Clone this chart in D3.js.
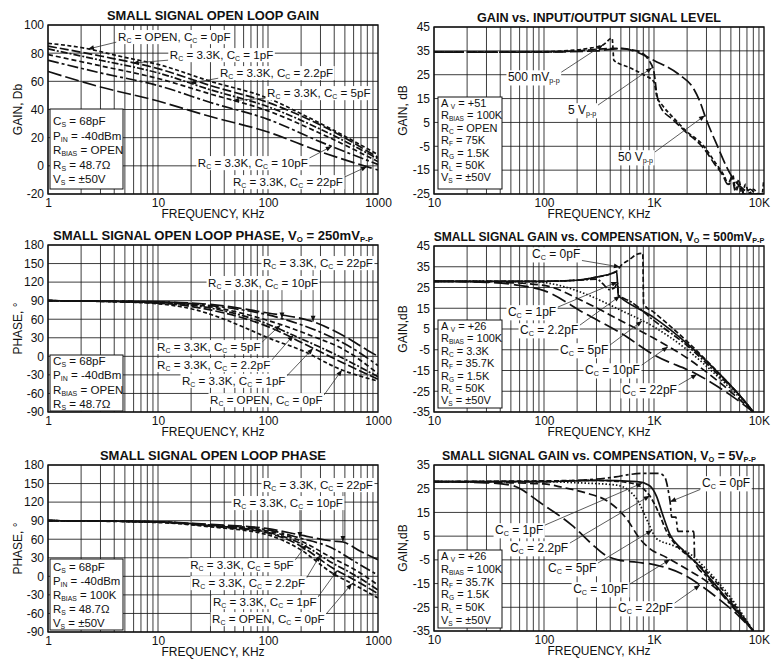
<!DOCTYPE html>
<html><head><meta charset="utf-8">
<script src="https://cdn.jsdelivr.net/npm/d3@7"></script>
<style>
body{margin:0;background:#fff}
svg{display:block}
text,tspan{font-family:"Liberation Sans",Arial,Helvetica,sans-serif;fill:#111;white-space:pre}
</style>
</head><body>
<svg id="c" width="771" height="663"></svg>
<script>
// ---------------- DATA ----------------
const freqTicksLeft = [1, 10, 100, 1000];
const freqLabelsLeft = ["1", "10", "100", "1000"];
const freqTicksRight = [10, 100, 1000, 10000];
const freqLabelsRight = ["10", "100", "1K", "10K"];
const gainTicksOL = [-20, 0, 20, 40, 60, 80, 100];
const gainTicksLevel = [-25, -15, -5, 5, 15, 25, 35, 45];
const phaseTicks = [-90, -60, -30, 0, 30, 60, 90, 120, 150, 180];
const gainTicks500 = [-35, -25, -15, -5, 5, 15, 25, 35, 45];
const gainTicks5V = [-35, -25, -15, -5, 5, 15, 25, 35];

const compLabelsRc = ["R_{C} = OPEN, C_{C} = 0pF", "R_{C} = 3.3K, C_{C} = 1pF", "R_{C} = 3.3K, C_{C} = 2.2pF",
                      "R_{C} = 3.3K, C_{C} = 5pF", "R_{C} = 3.3K, C_{C} = 10pF", "R_{C} = 3.3K, C_{C} = 22pF"];
const compLabelsCc = ["C_{C} = 0pF", "C_{C} = 1pF", "C_{C} = 2.2pF", "C_{C} = 5pF", "C_{C} = 10pF", "C_{C} = 22pF"];
const levelLabels = ["500 mV_{p-p}", "5 V_{p-p}", "50 V_{p-p}"];

// Panel 1: small signal open loop gain (dB) vs frequency (kHz)
const olGain0pF  = [[1,87],[2,84],[5,77],[10,72],[30,60],[100,48],[200,37],[400,25],[1000,8]];
const olGain1pF  = [[1,85],[3,78],[10,69],[30,57],[100,45],[300,29],[1000,6]];
const olGain2p2F = [[1,83],[3,75],[10,66],[30,54],[100,42],[300,26],[1000,5]];
const olGain5pF  = [[1,79],[3,71],[10,62],[30,51],[100,39],[300,23],[1000,3]];
const olGain10pF = [[1,75],[3,66],[10,57],[30,45],[100,33],[300,17],[1000,1]];
const olGain22pF = [[1,67],[3,56],[10,46],[30,35],[100,24],[300,10],[1000,-3]];

// Panel 2: gain vs input/output signal level
const level500mV = [[10,34.5],[50,34.5],[100,34.6],[150,35],[250,36],[344,37.5],[416,40.3],[432,31],[600,28],[800,25],[1000,22],[1060,16],[1200,12],[1500,7],[1900,2],[2900,-5.5],[3500,-11],[4300,-17],[4800,-21],[5200,-17],[5500,-23],[5900,-19],[6300,-25],[6800,-21],[7300,-25],[8000,-23],[9000,-25],[9600,-25],[9900,-20]];
const level5V   = [[10,34.5],[100,34.5],[200,35],[430,36],[700,35],[900,31],[1000,26],[1060,17],[1130,12],[1500,6],[1900,1.5],[2900,-6.5],[3500,-12],[4200,-17],[4700,-21],[5100,-18],[5500,-24],[6000,-21],[6600,-25],[7500,-23],[8500,-25],[10000,-25]];
const level50V  = [[10,34.5],[100,34.5],[300,35],[500,36],[700,34.5],[1000,31],[1700,25],[2300,19],[2600,14],[3000,6],[3700,-4],[5000,-17],[6500,-23],[8000,-25],[10000,-25]];

// Panel 3: open loop phase, Vo = 250mVpp (degrees)
const ph250_0pF  = [[1,90],[5,88],[10,85],[20,77],[40,60],[70,42],[100,30],[200,10],[470,-22],[1000,-40]];
const ph250_1pF  = [[1,90],[10,86],[30,75],[100,48],[257,13],[500,-12],[1000,-37]];
const ph250_2p2F = [[1,90],[10,87],[30,78],[100,52],[170,34],[400,4],[1000,-33]];
const ph250_5pF  = [[1,90],[10,87],[30,80],[100,58],[250,33],[500,10],[1000,-28]];
const ph250_10pF = [[1,90],[10,88],[30,82],[134,61],[300,39],[600,12],[1000,-15]];
const ph250_22pF = [[1,90],[10,88],[30,84],[100,70],[257,56],[500,32],[800,10],[1000,0]];

// Panel 4: gain vs compensation, Vo = 500mVpp
const g500_0pF  = [[10,28],[100,28],[200,28.5],[300,30],[400,31.5],[460,33],[500,35.5],[600,38.5],[700,41],[790,41.5],[805,17],[1000,13],[2000,-1],[4000,-17],[6000,-27],[8000,-35]];
const g500_1pF  = [[10,28],[100,28],[200,28.5],[300,30],[400,31.5],[458,32.5],[466,27],[474,21],[500,20],[1000,10.5],[2000,-2],[4000,-17],[6000,-27],[8000,-35]];
const g500_2p2F = [[10,28],[100,28],[200,28.5],[300,29],[340,27],[390,24],[440,25],[465,27.5],[475,21.5],[500,20.5],[600,18.5],[1000,9],[2000,-3],[4000,-18],[6000,-27],[8000,-35]];
const g500_5pF  = [[10,28],[80,27.8],[150,25.5],[235,22],[500,14],[1000,6],[2000,-5],[4000,-19],[6000,-28],[8000,-35]];
const g500_10pF = [[10,28],[40,27.5],[100,26],[235,18],[500,9],[1000,0.5],[2000,-9],[4000,-21],[6000,-29],[8000,-35]];
const g500_22pF = [[10,28],[30,27.5],[60,26],[100,23.5],[235,12.5],[500,3],[1000,-7.5],[2500,-17],[5000,-27],[8000,-35]];

// Panel 5: open loop phase (Rbias = 100K)
const ph_0pF  = [[1,90],[10,87],[30,80],[100,67],[194,44],[390,4.5],[600,-13],[1000,-35]];
const ph_1pF  = [[1,90],[10,88],[30,81],[100,70],[194,50],[390,13],[600,-5],[1000,-28]];
const ph_2p2F = [[1,90],[10,88],[30,82],[100,71],[194,54],[390,21],[600,3],[1000,-22]];
const ph_5pF  = [[1,90],[10,88],[30,82],[100,73],[194,58],[390,29],[600,12],[1000,-14]];
const ph_10pF = [[1,90],[10,88],[30,83],[100,75],[194,62],[390,45],[600,25],[1000,2]];
const ph_22pF = [[1,90],[10,88],[30,84],[100,77],[194,67],[390,57],[480,55.5],[700,40],[1000,27]];

// Panel 6: gain vs compensation, Vo = 5Vpp
const g5V_0pF  = [[10,28],[100,28],[200,28.5],[450,30],[600,31],[800,31.5],[1100,31.5],[1250,30],[1350,24],[1400,19.5],[1450,13],[1580,13],[1650,7],[2300,7],[2350,-6],[3000,-12],[5000,-24],[8000,-35]];
const g5V_1pF  = [[10,28],[100,28],[300,28.5],[700,28],[900,26.5],[1050,22],[1200,14],[1400,5.5],[1800,-0.5],[2500,-7],[4000,-18],[6000,-28],[8000,-35]];
const g5V_2p2F = [[10,28],[100,28.3],[300,28.5],[600,27.5],[800,25],[915,22],[1100,15],[1300,7],[1600,1],[2000,-3],[3000,-10],[5000,-22],[8000,-35]];
const g5V_5pF  = [[10,28],[100,28],[200,27.5],[460,26.5],[700,20.5],[900,10],[1050,4],[1500,1],[2200,-3],[3000,-9],[5000,-21],[8000,-35]];
const g5V_10pF = [[10,28],[50,27.5],[100,27],[150,25.5],[250,23],[370,20],[570,12],[740,4],[900,0],[1300,-4],[2000,-9],[3000,-14],[5000,-23],[8000,-35]];
const g5V_22pF = [[10,28],[30,27.5],[50,26.5],[100,18],[180,9.5],[275,1.5],[360,-3],[470,-5],[700,-6],[1000,-7],[1900,-11.5],[2600,-15.5],[4000,-22],[6000,-29],[8000,-35]];

// Parameter boxes
const params1 = ["C_{S} = 68pF", "P_{IN} = -40dBm", "R_{BIAS} = OPEN", "R_{S} = 48.7Ω", "V_{S} = ±50V"];
const params2 = ["A _{V} = +51", "R_{BIAS} = 100K", "R_{C} = OPEN", "R_{F} = 75K", "R_{G} = 1.5K", "R_{L} = 50K", "V_{S} = ±50V"];
const params3 = ["C_{S} = 68pF", "P_{IN} = -40dBm", "R_{BIAS} = OPEN", "R_{S} = 48.7Ω"];
const params4 = ["A _{V} = +26", "R_{BIAS} = 100K", "R_{C} = 3.3K", "R_{F} = 35.7K", "R_{G} = 1.5K", "R_{L} = 50K", "V_{S} = ±50V"];
const params5 = ["C_{S} = 68pF", "P_{IN} = -40dBm", "R_{BIAS} = 100K", "R_{S} = 48.7Ω", "V_{S} = ±50V"];
const params6 = ["A _{V} = +26", "R_{BIAS} = 100K", "R_{F} = 35.7K", "R_{G} = 1.5K", "R_{L} = 50K", "V_{S} = ±50V"];

// ---------------- LAYOUT / STYLE ----------------
const FONT = '"Liberation Sans", Arial, Helvetica, sans-serif';
const dashLeft = ["4,2.5", "9,3", "7,2,2,2", "5,3", "11,3,3,3", "14,4"];
const dash500 = ["5,2.5", null, "7,2,2,2", "1.5,2", "8,4", "15,5"];
const dash5V = ["9,3,3,3", null, "5,2.5", "1.5,2", "8,4", "15,5"];
const dashLevel = ["4,2.5", "8,3", "13,4"];
const PAGE_W = 771;

const L = {left: 48, right: 378}, R = {left: 434, right: 764};

const panels = [
  {...L, top: 25, bottom: 194, xd: [1, 1000], yd: [-20, 100], yTicks: gainTicksOL, xTicks: freqTicksLeft, xLabels: freqLabelsLeft,
   title: "SMALL SIGNAL OPEN LOOP GAIN", titleSize: 12.9, yTitle: "GAIN, Db", yTitleX: 18, annSize: 11.6,
   series: [olGain0pF, olGain1pF, olGain2p2F, olGain5pF, olGain10pF, olGain22pF], dashes: dashLeft, labels: compLabelsRc,
   box: {x: 50, y: 109, w: 73, h: 80, base: 125, step: 14.5, size: 11.6, lines: params1},
   ann: [[0, 2.31, 4.33, 91.5, "start"], [1, 5.9, 12.8, 78.7, "start"], [2, 19.6, 36.6, 65.9, "start"],
         [3, 48, 98, 51.7, "start"], [4, 380, 230, 2.0, "end"], [5, 795, 480, -11.5, "end"]]},
  {...R, top: 27, bottom: 194, xd: [10, 10000], yd: [-25, 45], yTicks: gainTicksLevel, xTicks: freqTicksRight, xLabels: freqLabelsRight,
   title: "GAIN vs. INPUT/OUTPUT SIGNAL LEVEL", titleSize: 12.6, yTitle: "GAIN, dB", yTitleX: 403, annSize: 12,
   series: [level500mV, level5V, level50V], dashes: dashLevel, labels: levelLabels,
   box: {x: 438, y: 97, w: 64, h: 92, base: 107, step: 12.4, size: 11, lines: params2},
   ann: [[0, 344, 47, 24.0, "start"], [1, 960, 165, 10.2, "start"], [2, 2900, 471, -9.5, "start"]]},
  {...L, top: 245, bottom: 412, xd: [1, 1000], yd: [-90, 180], yTicks: phaseTicks, xTicks: freqTicksLeft, xLabels: freqLabelsLeft,
   title: "SMALL SIGNAL OPEN LOOP PHASE, V_{O} = 250mV_{P-P}", titleSize: 13.1, yTitle: "PHASE, °", yTitleX: 18, annSize: 11.6,
   series: [ph250_0pF, ph250_1pF, ph250_2p2F, ph250_5pF, ph250_10pF, ph250_22pF], dashes: dashLeft, labels: compLabelsRc,
   box: {x: 50, y: 355, w: 73, h: 56, base: 365, step: 14.3, size: 11.6, lines: params3},
   ann: [[5, 257, 900, 150.9, "end"], [4, 134, 28.5, 118.6, "start"], [3, 130, 9.8, 15.1, "start"],
         [2, 170, 9.8, -14, "start"], [1, 257, 16.5, -39.4, "start"], [0, 470, 29.7, -70.6, "start"]]},
  {...R, top: 246, bottom: 412, xd: [10, 10000], yd: [-35, 45], yTicks: gainTicks500, xTicks: freqTicksRight, xLabels: freqLabelsRight,
   title: "SMALL SIGNAL GAIN vs. COMPENSATION, V_{O} = 500mV_{P-P}", titleSize: 12.1, yTitle: "GAIN,dB", yTitleX: 403, annSize: 12,
   series: [g500_0pF, g500_1pF, g500_2p2F, g500_5pF, g500_10pF, g500_22pF], dashes: dash500, labels: compLabelsCc,
   box: {x: 438, y: 320, w: 64, h: 88, base: 330, step: 12.4, size: 11, lines: params4},
   ann: [[0, 490, 77.8, 41.1, "start"], [1, 465, 47, 13.2, "start"], [2, 490, 60.5, 4.5, "start"],
         [3, 780, 140, -5.1, "start"], [4, 1340, 236, -14.8, "start"], [5, 2460, 512, -24.4, "start"]]},
  {...L, top: 465, bottom: 632, xd: [1, 1000], yd: [-90, 180], yTicks: phaseTicks, xTicks: freqTicksLeft, xLabels: freqLabelsLeft,
   title: "SMALL SIGNAL OPEN LOOP PHASE", titleSize: 13, yTitle: "PHASE, °", yTitleX: 18, annSize: 11.6,
   series: [ph_0pF, ph_1pF, ph_2p2F, ph_5pF, ph_10pF, ph_22pF], dashes: dashLeft, labels: compLabelsRc,
   box: {x: 50, y: 559, w: 73, h: 71, base: 571, step: 14.1, size: 11.4, lines: params5},
   ann: [[5, 480, 900, 147.7, "end"], [4, 195, 480, 118.6, "end"], [3, 225, 19.6, 18.3, "start"],
         [2, 297, 20.3, -10.8, "start"], [1, 425, 31.6, -41.5, "start"], [0, 580, 31, -69, "start"]]},
  {...R, top: 465, bottom: 631, xd: [10, 10000], yd: [-35, 35], yTicks: gainTicks5V, xTicks: freqTicksRight, xLabels: freqLabelsRight,
   title: "SMALL SIGNAL GAIN vs. COMPENSATION, V_{O} = 5V_{P-P}", titleSize: 12.4, yTitle: "GAIN,dB", yTitleX: 403, annSize: 12,
   series: [g5V_0pF, g5V_1pF, g5V_2p2F, g5V_5pF, g5V_10pF, g5V_22pF], dashes: dash5V, labels: compLabelsCc,
   box: {x: 438, y: 550, w: 64, h: 78, base: 560, step: 12.8, size: 11, lines: params6},
   ann: [[0, 1400, 2730, 27.4, "start"], [1, 780, 35.9, 7.6, "start"], [2, 915, 49, 0, "start"],
         [3, 960, 109, -8.4, "start"], [4, 1400, 184, -17.3, "start"], [5, 2620, 471, -25.3, "start"]]}
];

// ---------------- DRAWING ----------------
const svg = d3.select("#c");
const defs = svg.append("defs");
defs.append("marker").attr("id", "ah").attr("viewBox", "0 0 10 10").attr("refX", 10).attr("refY", 5)
  .attr("markerWidth", 7).attr("markerHeight", 6).attr("markerUnits", "userSpaceOnUse").attr("orient", "auto")
  .append("path").attr("d", "M0,1 L10,5 L0,9 z").attr("fill", "#111");

function rich(sel, str, size) {
  const parts = str.split(/(_\{[^}]*\})/).filter(s => s.length);
  let shifted = false;
  parts.forEach(p => {
    const sub = p.startsWith("_{");
    const t = sel.append("tspan").attr("fill", "#111").text(sub ? p.slice(2, -1) : p);
    if (sub) { t.attr("font-size", size * 0.6).attr("dy", size * 0.18); shifted = true; }
    else if (shifted) { t.attr("dy", -size * 0.18); shifted = false; }
  });
  return sel;
}

function interp(data, f) {
  const lf = Math.log10(f);
  for (let i = 1; i < data.length; i++) {
    const a = data[i - 1], b = data[i];
    if (f <= b[0]) {
      const t = (lf - Math.log10(a[0])) / (Math.log10(b[0]) - Math.log10(a[0]));
      return a[1] + t * (b[1] - a[1]);
    }
  }
  return data[data.length - 1][1];
}

panels.forEach((p, pi) => {
  const x = d3.scaleLog().domain(p.xd).range([p.left, p.right]);
  const y = d3.scaleLinear().domain(p.yd).range([p.bottom, p.top]);
  const g = svg.append("g");

  // grid
  const vLines = [];
  for (let dec = p.xd[0]; dec < p.xd[1]; dec *= 10) for (let k = 1; k < 10; k++) vLines.push(dec * k);
  g.append("g").selectAll("line").data(vLines).join("line")
    .attr("x1", d => x(d)).attr("x2", d => x(d)).attr("y1", p.top).attr("y2", p.bottom)
    .attr("stroke", "#1b1b1b").attr("stroke-width", 0.85);
  g.append("g").selectAll("line").data(p.yTicks).join("line")
    .attr("x1", p.left).attr("x2", p.right).attr("y1", d => y(d)).attr("y2", d => y(d))
    .attr("stroke", "#1b1b1b").attr("stroke-width", 0.85);

  // axes
  const ay = g.append("g").attr("transform", `translate(${p.left},0)`)
    .call(d3.axisLeft(y).tickValues(p.yTicks).tickSize(0).tickPadding(4).tickFormat(d => String(d)));
  ay.select(".domain").remove();
  ay.attr("font-family", FONT).attr("font-size", 12);
  ay.selectAll("text").attr("fill", "#111");
  const ax = g.append("g").attr("transform", `translate(0,${p.bottom})`)
    .call(d3.axisBottom(x).tickValues(p.xTicks).tickSize(0).tickPadding(4).tickFormat((d, i) => p.xLabels[i]));
  ax.select(".domain").remove();
  ax.attr("font-family", FONT).attr("font-size", 12);
  ax.selectAll("text").attr("fill", "#111").each(function () {
    const r = this.getBoundingClientRect();
    const over = r.right - (PAGE_W - 1);
    if (over > 0) d3.select(this).attr("dx", -over);
  });

  // titles
  rich(g.append("text").attr("x", (p.left + p.right) / 2).attr("y", p.top - 5).attr("text-anchor", "middle")
    .attr("font-size", p.titleSize).attr("font-weight", "bold"), p.title, p.titleSize);
  g.append("text").attr("x", (p.left + p.right) / 2).attr("y", p.bottom + 24).attr("text-anchor", "middle")
    .attr("font-size", 12).text("FREQUENCY, KHz");
  g.append("text").attr("transform", `translate(${p.yTitleX},${(p.top + p.bottom) / 2}) rotate(-90)`)
    .attr("text-anchor", "middle").attr("dy", "0.35em").attr("font-size", 12).text(p.yTitle);

  // curves
  const cid = "clip" + pi;
  defs.append("clipPath").attr("id", cid).append("rect")
    .attr("x", p.left).attr("y", p.top).attr("width", p.right - p.left).attr("height", p.bottom - p.top);
  const line = d3.line().x(d => x(d[0])).y(d => y(d[1])).curve(d3.curveMonotoneX);
  g.append("g").attr("clip-path", `url(#${cid})`).selectAll("path").data(p.series).join("path")
    .attr("d", line).attr("fill", "none").attr("stroke", "#111").attr("stroke-width", 1.7)
    .attr("stroke-dasharray", (d, i) => p.dashes[i]);

  // frame
  g.append("rect").attr("x", p.left).attr("y", p.top).attr("width", p.right - p.left).attr("height", p.bottom - p.top)
    .attr("fill", "none").attr("stroke", "#111").attr("stroke-width", 1.4);

  // parameter box
  const b = p.box;
  g.append("rect").attr("x", b.x).attr("y", b.y).attr("width", b.w).attr("height", b.h)
    .attr("fill", "#fff").attr("stroke", "#111").attr("stroke-width", 1);
  b.lines.forEach((s, i) => {
    rich(g.append("text").attr("x", b.x + 3).attr("y", b.base + i * b.step).attr("font-size", b.size), s, b.size);
  });

  // annotations
  p.ann.forEach(([si, tipF, lf, lv, anchor]) => {
    const tx = x(tipF), ty = y(interp(p.series[si], tipF));
    const lead = g.append("line");
    const bg = g.append("rect").attr("fill", "#fff");
    const t = rich(g.append("text").attr("x", x(lf)).attr("y", y(lv)).attr("dy", "0.35em")
      .attr("text-anchor", anchor).attr("font-size", p.annSize), p.labels[si], p.annSize);
    const bb = t.node().getBBox();
    bg.attr("x", bb.x - 1.5).attr("y", bb.y).attr("width", bb.width + 3).attr("height", bb.height);
    const sx = Math.max(bb.x - 1.5, Math.min(tx, bb.x + bb.width + 1.5));
    const sy = Math.max(bb.y + 2, Math.min(ty, bb.y + bb.height - 2));
    lead.attr("x1", sx).attr("y1", sy).attr("x2", tx).attr("y2", ty)
      .attr("stroke", "#333").attr("stroke-width", 0.8).attr("marker-end", "url(#ah)");
  });
});
</script>
</body></html>
